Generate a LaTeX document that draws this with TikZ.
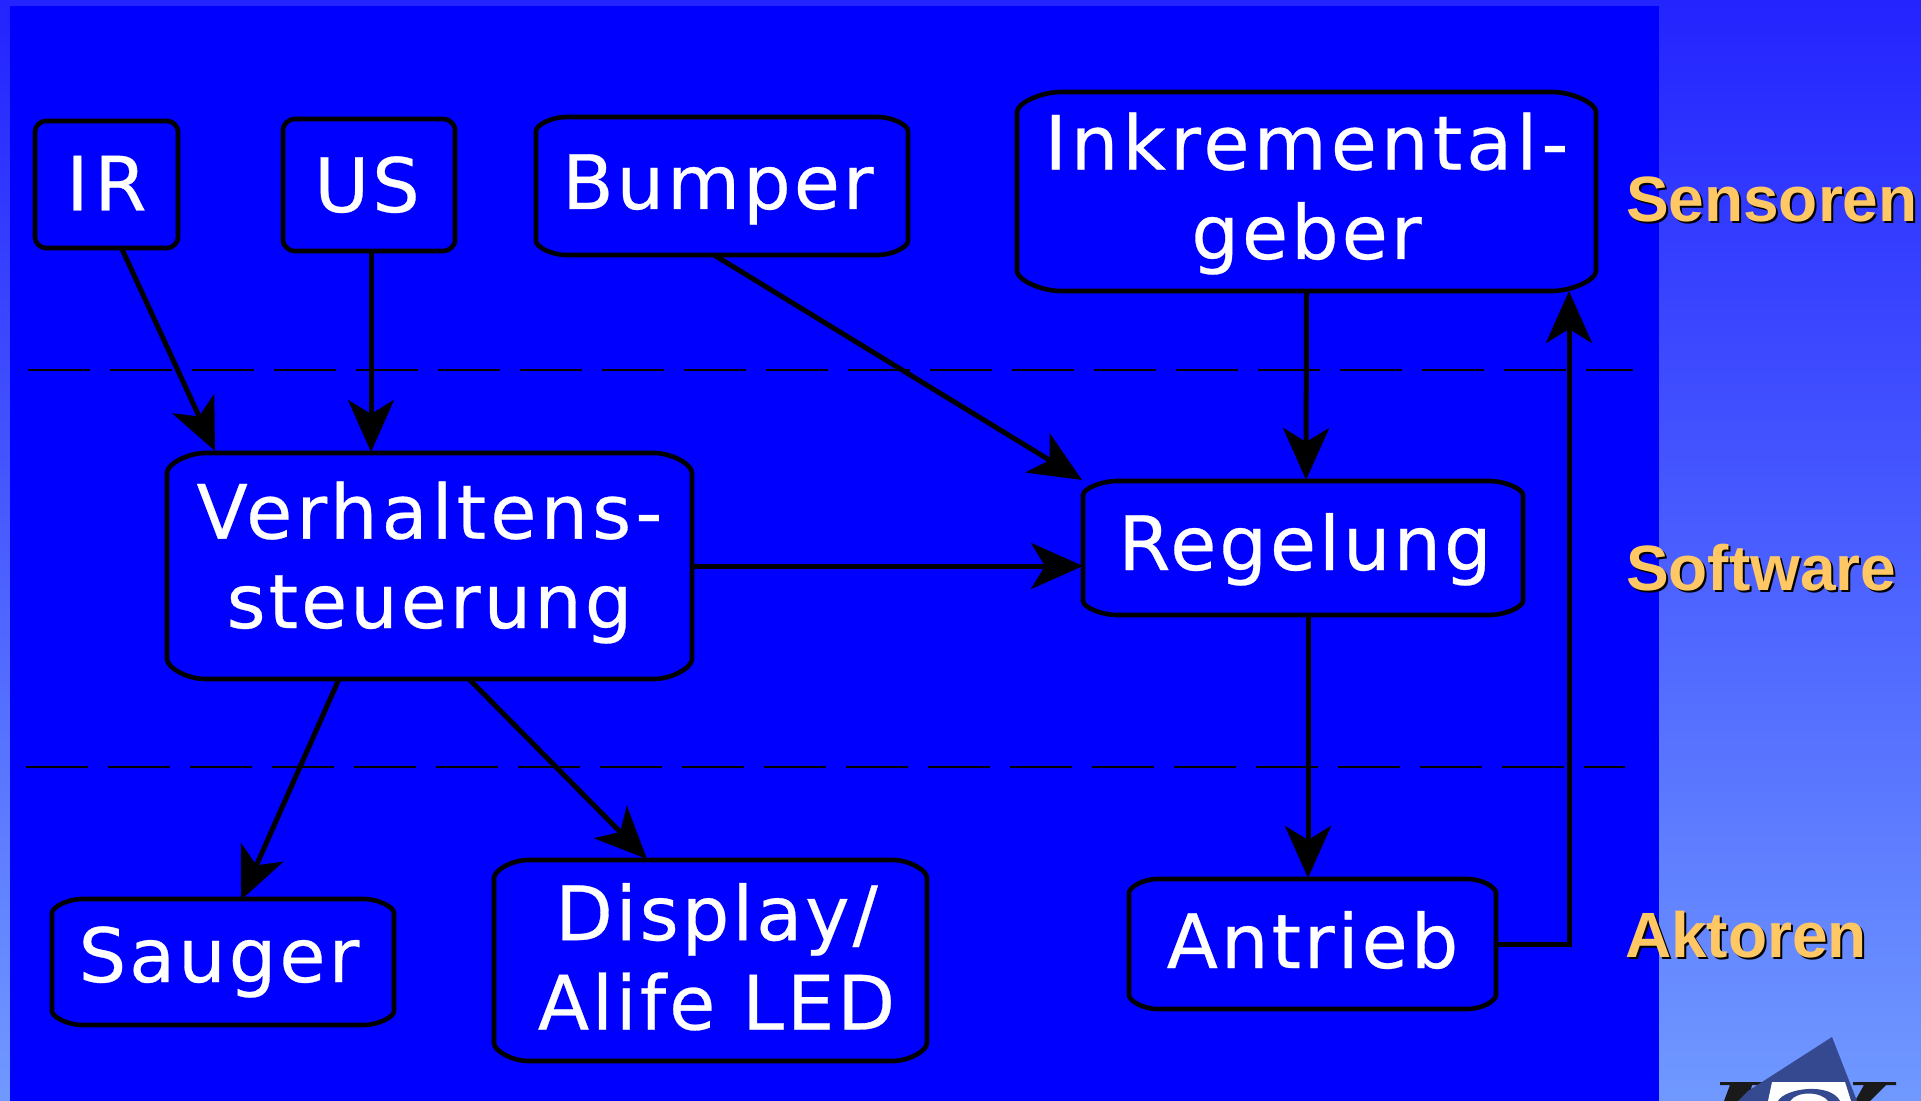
\documentclass[tikz,border=0pt]{standalone}
\usepackage{fontspec}
\setmainfont{DejaVu Sans}
\newfontfamily\boxfont{DejaVu Sans}[LetterSpace=4,FakeBold=0.4]
\newfontfamily\wideboxfont{DejaVu Sans}[LetterSpace=5.5,FakeBold=0.4]
\newfontfamily\labelfont{Liberation Sans}[BoldFont={Liberation Sans Bold}]
\usetikzlibrary{calc,arrows.meta}
\definecolor{panelblue}{HTML}{0000FF}
\definecolor{labelorange}{HTML}{FFC864}
\definecolor{logoblue}{HTML}{34498F}
\definecolor{logoblack}{HTML}{1A1A1A}
\tikzset{
  x=0.5pt,y=-0.5pt,
  boxnode/.style={rectangle,inner sep=0pt,outer sep=0pt,text=white,align=center,
    font=\boxfont\fontsize{37.5}{44.7}\selectfont},
  boxline/.style={black,line width=2.3pt},
  conn/.style={black,line width=2.5pt,-{Stealth[length=26pt,width=23pt,inset=7pt]}},
  sepline/.style={black,line width=1.2pt,dash pattern=on 31pt off 10pt},
  lane/.style={inner sep=0pt,outer sep=0pt,anchor=base west,font=\labelfont\bfseries\fontsize{32}{36}\selectfont},
}
% x1 y1 x2 y2 rx ry text-box-options name text
\newcommand{\cbox}[9]{%
  \node[boxnode,minimum width={(#3-#1)*0.5pt},minimum height={(#4-#2)*0.5pt},#7]
    (#8) at ({(#1+#3)/2},{(#2+#4)/2}) {#9};
  \draw[boxline]
    ($(#8.north west)+(#5,0)$) -- ($(#8.north east)+(-#5,0)$)
    .. controls ($(#8.north east)+(-0.55*#5,0)$) and ($(#8.north east)+(0,0.55*#6)$) .. ($(#8.north east)+(0,#6)$)
    -- ($(#8.south east)+(0,-#6)$)
    .. controls ($(#8.south east)+(0,-0.55*#6)$) and ($(#8.south east)+(-0.55*#5,0)$) .. ($(#8.south east)+(-#5,0)$)
    -- ($(#8.south west)+(#5,0)$)
    .. controls ($(#8.south west)+(0.55*#5,0)$) and ($(#8.south west)+(0,-0.55*#6)$) .. ($(#8.south west)+(0,-#6)$)
    -- ($(#8.north west)+(0,#6)$)
    .. controls ($(#8.north west)+(0,0.55*#6)$) and ($(#8.north west)+(0.55*#5,0)$) .. cycle;
}
\newcommand{\lanelabel}[4]{%
  \node[lane,text=black] (#1s) at (#2+2,#3+2) {#4};
  \node[lane,text=labelorange] (#1) at (#2,#3) {#4};
}
\begin{document}
\begin{tikzpicture}
\useasboundingbox (0,0) rectangle (1921,1101);
\shade[top color=blue!86!white,bottom color={rgb,255:red,112;green,153;blue,255}] (0,0) rectangle (1921,1101);
\fill[panelblue] (10,6) rectangle (1659,1101);

% logo
\fill[logoblack] (1720,1082) -- (1765,1082) -- (1765,1085) -- (1752,1085) -- (1748,1101) -- (1724,1101) -- (1730,1085) -- (1720,1085) -- cycle;
\fill[logoblack] (1853,1082) -- (1896,1082) -- (1896,1085) -- (1886,1085) -- (1870,1101) -- (1855,1101) -- (1864,1085) -- (1853,1085) -- cycle;
\fill[logoblue] (1832,1037) -- (1857,1101) -- (1738,1101) -- (1748,1091) -- cycle;
\fill[white] (1772,1082) -- (1845,1082) -- (1851,1101) -- (1768,1101) -- cycle;
\fill[logoblue] (1778,1101) .. controls (1785,1088) and (1830,1082) .. (1840,1101) -- (1828,1101) .. controls (1822,1092) and (1798,1090) .. (1790,1101) -- cycle;

% dashed separators
\coordinate (sepAl) at (28,370);
\coordinate (sepAr) at (1633,370);
\coordinate (sepBl) at (26,767);
\coordinate (sepBr) at (1625,767);
\draw[sepline] (sepAl) -- (sepAr);
\draw[sepline] (sepBl) -- (sepBr);

% boxes
\cbox{35}{121}{178}{248}{10}{10}{text height=26pt,text depth=0pt}{ir}{I\kern3pt R}
\cbox{283}{119}{455}{251}{11}{10}{text height=27pt,text depth=0pt}{us}{\kern-2pt US}
\cbox{536}{117}{908}{255}{30}{14}{text height=23pt,text depth=0pt}{bumper}{\kern-4pt Bumper}
\cbox{1017}{92}{1596}{291}{44}{20}{text height=67.5pt,text depth=0pt}{ink}{\wideboxfont\fontsize{37.5}{44.7}\selectfont Inkremental-\\geber}
\cbox{167}{453}{692}{679}{38}{20}{text height=62pt,text depth=0pt}{verh}{\wideboxfont\fontsize{37.5}{44.7}\selectfont Verhaltens-\\steuerung}
\cbox{1083}{481}{1523}{615}{34}{14}{text height=22pt,text depth=0pt}{reg}{\kern2pt Regelung}
\cbox{52}{899}{394}{1025}{30}{14}{text height=20pt,text depth=0pt}{sauger}{\kern-4pt Sauger}
\cbox{494}{860}{927}{1061}{34}{18}{text height=69pt,text depth=0pt}{display}{\hspace*{6pt}Display/\\\hspace*{6pt}Alife LED}
\cbox{1129}{879}{1496}{1009}{28}{14}{text height=24pt,text depth=0pt}{antrieb}{Antrieb}

% connectors
\draw[conn] ($(ir.south)+(15,0)$) -- ($(verh.north west)+(48,-2)$);
\draw[conn] ($(us.south)+(2,0)$) -- ($(verh.north west)+(204,-1)$);
\draw[conn] ($(bumper.south)+(-8,0)$) -- ($(reg.north west)+(-1,-1)$);
\draw[conn] ($(ink.south)+(0,0)$) -- ($(reg.north)+(3,-1)$);
\draw[conn] (verh.east) -- (reg.west |- verh.east);
\draw[conn] ($(verh.south west)+(172,0)$) -- ($(sauger.north west)+(189,1)$);
\draw[conn] ($(verh.south west)+(302,0)$) -- ($(display.north west)+(153,-1)$);
\draw[conn] ($(reg.south)+(5,0)$) -- ($(antrieb.north west)+(179,-1)$);
\draw[conn] (antrieb.east) -| ($(ink.south east)+(-27,0)$);

% lane labels
\lanelabel{sens}{1626}{222}{Sensoren}
\lanelabel{soft}{1626}{590}{Software}
\lanelabel{akt}{1625}{957}{Aktoren}
\end{tikzpicture}
\end{document}
